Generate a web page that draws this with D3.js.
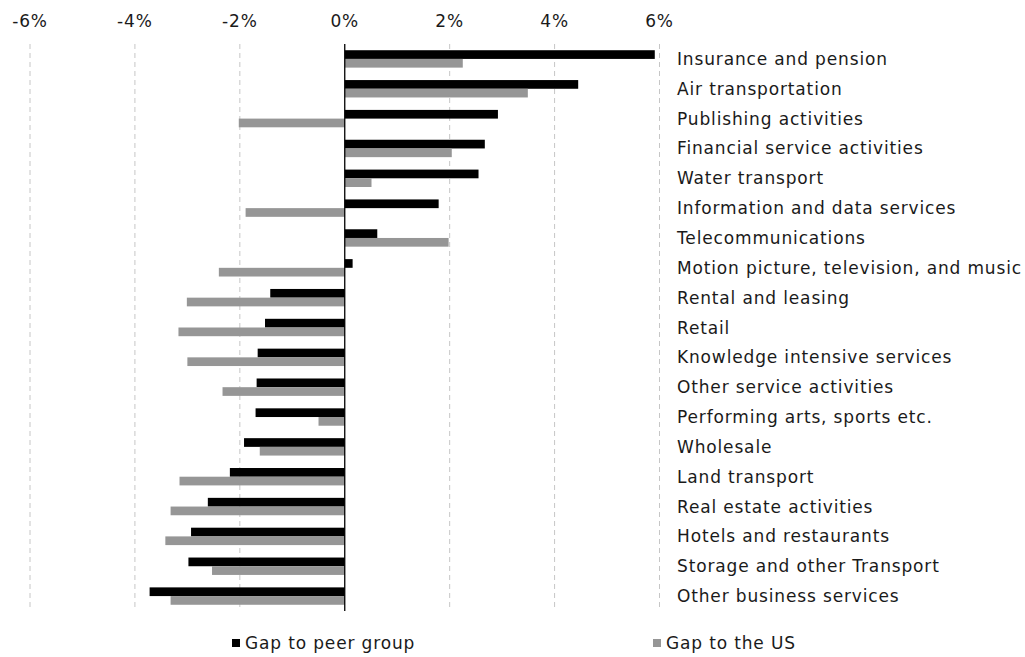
<!DOCTYPE html>
<html>
<head>
<meta charset="utf-8">
<script src="https://cdn.jsdelivr.net/npm/d3@7"></script>
<style>
  body { margin: 0; background: #fff; }
  svg text { font-family: "DejaVu Sans", Verdana, sans-serif; fill: #1a1a1a; font-size: 17px; letter-spacing: 0.85px; }
</style>
</head>
<body>
<script>
const sectors = [
  "Insurance and pension",
  "Air transportation",
  "Publishing activities",
  "Financial service activities",
  "Water transport",
  "Information and data services",
  "Telecommunications",
  "Motion picture, television, and music",
  "Rental and leasing",
  "Retail",
  "Knowledge intensive services",
  "Other service activities",
  "Performing arts, sports etc.",
  "Wholesale",
  "Land transport",
  "Real estate activities",
  "Hotels and restaurants",
  "Storage and other Transport",
  "Other business services"
];

// gap in percentage points
const gapPeer = [5.91, 4.45, 2.92, 2.67, 2.55, 1.79, 0.62, 0.15, -1.42, -1.52,
  -1.66, -1.68, -1.70, -1.92, -2.19, -2.61, -2.93, -2.98, -3.72];
const gapUS = [2.25, 3.49, -2.02, 2.04, 0.51, -1.89, 1.98, -2.40, -3.01, -3.17,
  -3.00, -2.33, -0.50, -1.62, -3.15, -3.32, -3.42, -2.53, -3.32];

const ticks = [-6, -4, -2, 0, 2, 4, 6];
const seriesNames = ["Gap to peer group", "Gap to the US"];
const colors = ["#000000", "#969696"];

const width = 1025, height = 657;
const plotTop = 44, plotBottom = 611;

const svg = d3.select("body").append("svg")
  .attr("width", width)
  .attr("height", height);

const x = d3.scaleLinear().domain([-6, 6]).range([30, 659.5]);
const y = d3.scaleBand().domain(sectors).range([plotTop, plotBottom]);
const inner = d3.scaleBand().domain([0, 1]).range([y.bandwidth() / 2 - 8.7, y.bandwidth() / 2 + 8.7]);

// dashed vertical grid
svg.append("g")
  .selectAll("line")
  .data(ticks.filter(t => t !== 0))
  .join("line")
  .attr("x1", d => x(d)).attr("x2", d => x(d))
  .attr("y1", plotTop).attr("y2", plotBottom)
  .attr("stroke", "#c6c6c6")
  .attr("stroke-dasharray", "5,4");

// tick labels along the top
svg.append("g")
  .selectAll("text")
  .data(ticks)
  .join("text")
  .attr("x", d => x(d))
  .attr("y", 27)
  .attr("text-anchor", "middle")
  .text(d => d + "%");

// bars
const rows = svg.append("g")
  .selectAll("g")
  .data(sectors)
  .join("g")
  .attr("transform", d => `translate(0,${y(d)})`);

[gapPeer, gapUS].forEach((vals, s) => {
  rows.append("rect")
    .attr("x", (d, i) => x(Math.min(0, vals[i])))
    .attr("width", (d, i) => Math.abs(x(vals[i]) - x(0)))
    .attr("y", inner(s))
    .attr("height", inner.bandwidth())
    .attr("fill", colors[s]);
});

// zero line
svg.append("line")
  .attr("x1", x(0)).attr("x2", x(0))
  .attr("y1", plotTop).attr("y2", plotBottom)
  .attr("stroke", "#000")
  .attr("stroke-width", 1.3);

// category labels on the right
svg.append("g")
  .selectAll("text")
  .data(sectors)
  .join("text")
  .attr("x", 677)
  .attr("y", d => y(d) + y.bandwidth() / 2 + 6)
  .text(d => d);

// legend
const legendX = [232, 653];
const legend = svg.append("g")
  .selectAll("g")
  .data(seriesNames)
  .join("g")
  .attr("transform", (d, i) => `translate(${legendX[i]},639)`);

legend.append("rect")
  .attr("width", 8).attr("height", 8)
  .attr("fill", (d, i) => colors[i]);

legend.append("text")
  .attr("x", 13)
  .attr("y", 10)
  .text(d => d);
</script>
</body>
</html>
